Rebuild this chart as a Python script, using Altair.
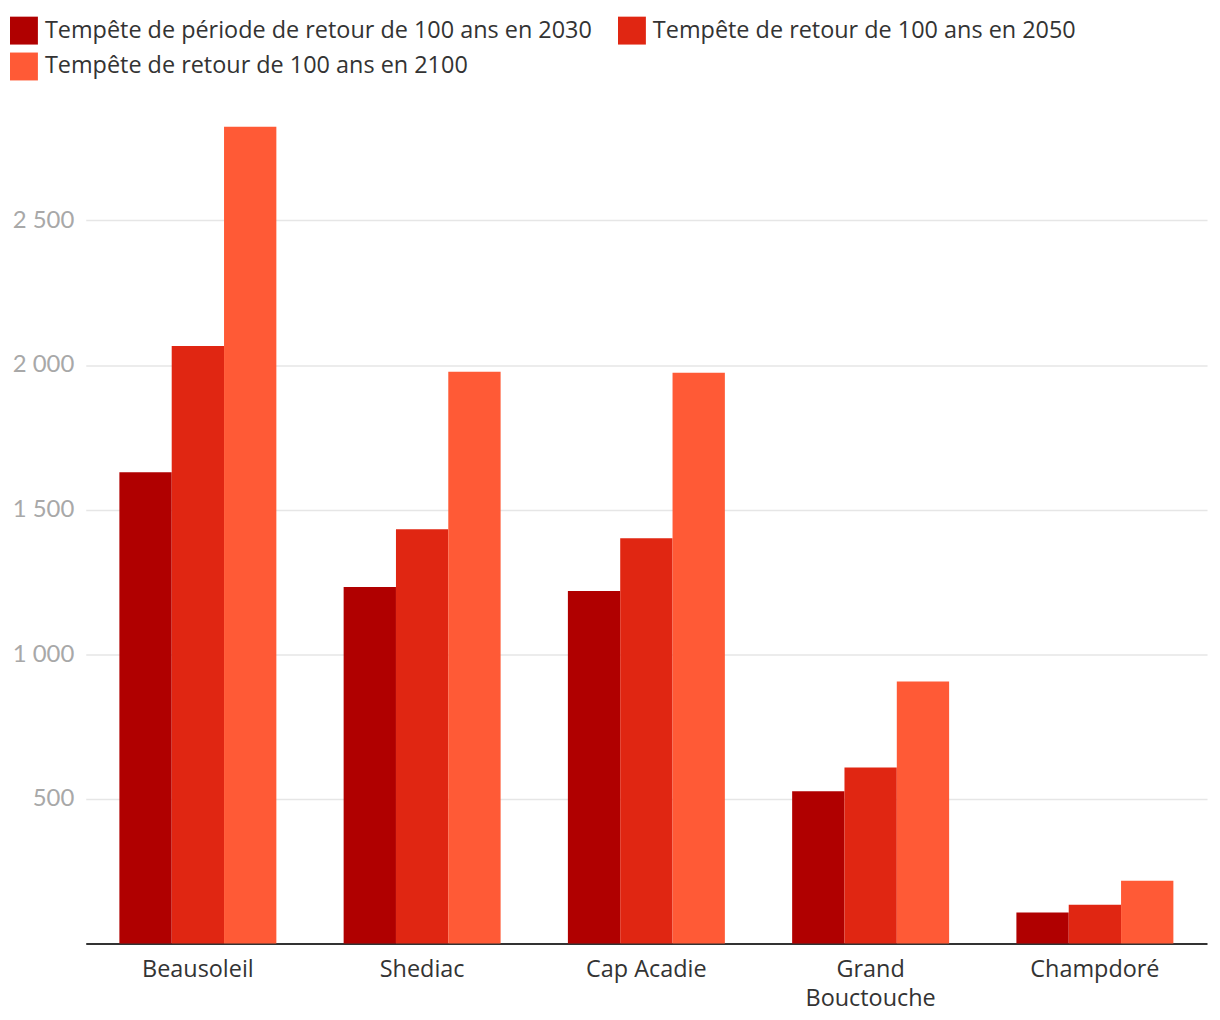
import altair as alt
import pandas as pd

communities = ["Beausoleil", "Shediac", "Cap Acadie", "Grand Bouctouche", "Champdoré"]
series = [
    "Tempête de période de retour de 100 ans en 2030",
    "Tempête de retour de 100 ans en 2050",
    "Tempête de retour de 100 ans en 2100",
]
v2030 = [1629, 1233, 1219, 527, 107]
v2050 = [2066, 1432, 1401, 609, 134]
v2100 = [2824, 1977, 1973, 906, 217]
colors = ["#b00000", "#e02612", "#ff5a36"]

rows = []
for s, vals in zip(series, [v2030, v2050, v2100]):
    for c, v in zip(communities, vals):
        rows.append({"community": c, "series": s, "value": v})
df = pd.DataFrame(rows)

chart = alt.Chart(df).mark_bar().encode(
    x=alt.X(
        "community:N",
        sort=communities,
        scale=alt.Scale(paddingInner=0.3, paddingOuter=0.15),
        axis=alt.Axis(
            title=None,
            labelAngle=0,
            labelFont="Open Sans",
            labelFontSize=23.5,
            labelColor="#333333",
            labelPadding=14,
            labelLineHeight=29,
            labelExpr="datum.value == 'Grand Bouctouche' ? ['Grand', 'Bouctouche'] : datum.value",
            ticks=False,
            domainColor="#333333",
            domainWidth=2,
            grid=False,
        ),
    ),
    xOffset=alt.XOffset("series:N", sort=series),
    y=alt.Y(
        "value:Q",
        scale=alt.Scale(domain=[0, 2870], nice=False),
        axis=alt.Axis(
            title=None,
            values=[500, 1000, 1500, 2000, 2500],
            labelExpr="replace(format(datum.value, ',d'), ',', ' ')",
            labelFont="Lato",
            labelFontSize=24,
            labelColor="#a8a8a8",
            labelPadding=12,
            ticks=False,
            domain=False,
            gridColor="#e6e6e6",
            gridWidth=1.5,
        ),
    ),
    color=alt.Color(
        "series:N",
        sort=series,
        scale=alt.Scale(domain=series, range=colors),
        legend=alt.Legend(
            title=None,
            orient="none",
            legendX=-76,
            legendY=-97,
            direction="horizontal",
            columns=2,
            symbolType="square",
            symbolSize=784,
            symbolStrokeWidth=0,
            symbolOpacity=1,
            labelFont="Open Sans",
            labelFontSize=23.5,
            labelColor="#333333",
            labelOffset=7,
            labelLimit=700,
            rowPadding=8,
            columnPadding=25,
            padding=0,
        ),
    ),
).properties(
    width=1125,
    height=833,
    autosize=alt.AutoSizeParams(type="none"),
    padding={"left": 78, "top": 104, "right": 5, "bottom": 78},
).configure_view(stroke=None)

chart.save("out.html", embed_options={"renderer": "svg", "actions": False})
